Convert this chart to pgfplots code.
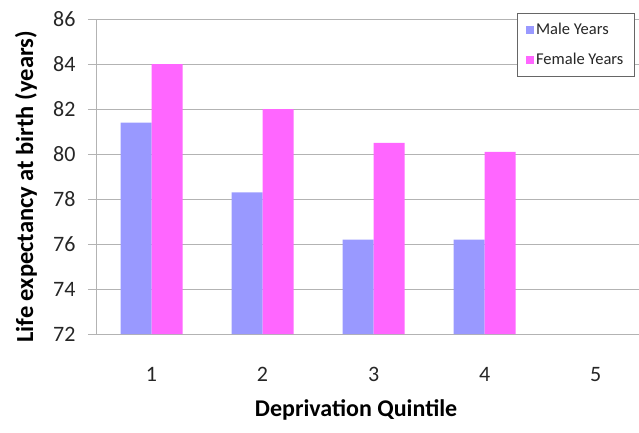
\documentclass[border=0pt]{standalone}
\usepackage{pgfplots}
\pgfplotsset{compat=1.18}
\usepackage{fontspec}
\setmainfont{Carlito}
\usetikzlibrary{calc}
\definecolor{maleblue}{HTML}{9999FF}
\definecolor{femalepink}{HTML}{FF66FF}
\definecolor{gridgray}{HTML}{B3B3B3}
\begin{document}
\begin{tikzpicture}
\begin{axis}[
  name=ax,
  scale only axis,
  width=543pt, height=315pt,
  xmin=0.5, xmax=5.39,
  ymin=72, ymax=86,
  ytick={72,74,...,86},
  xtick=\empty,
  minor xtick={0.5,1.5,2.5,3.5,4.5},
  extra x ticks={1,2,3,4,5},
  extra x tick labels={1,2,3,4,5},
  extra x tick style={tick style={draw=none}},
  axis x line*=bottom, axis y line*=left,
  axis line style={gridgray, line width=0.8pt, -},
  ymajorgrids, grid style={gridgray, line width=0.8pt},
  tick align=outside,
  major tick length=8pt, minor tick length=11pt,
  tick style={gridgray, line width=0.8pt},
  /pgf/number format/assume math mode=true,
  ticklabel style={font=\fontsize{22}{26}\selectfont, text=black!85},
  xticklabel style={yshift=-22pt},
  yticklabel style={xshift=-9pt},
  ybar=0pt, bar width=31pt,
  xlabel={\textbf{Deprivation Quintile}},
  ylabel={\textbf{Life expectancy at birth (years)}},
  xlabel style={font=\fontsize{24}{28}\selectfont, at={(axis description cs:0.479,-0.241)}, anchor=center},
  ylabel style={font=\fontsize{24.5}{28}\selectfont, at={(axis description cs:-0.129,0.467)}, anchor=center},
  legend style={at={(axis description cs:0.775,1.019)}, anchor=north west,
    draw=gray!80!black, line width=0.6pt, font=\fontsize{16.5}{19}\selectfont,
    row sep=13pt, inner xsep=9pt, inner ysep=8pt, text=black!85},
  legend image code/.code={\fill[#1] (0pt,-4pt) rectangle (8pt,4pt);},
  legend cell align=left,
]
\addplot[fill=maleblue, draw=none] coordinates {(1,81.4) (2,78.3) (3,76.2) (4,76.2)};
\addplot[fill=femalepink, draw=none] coordinates {(1,84) (2,82) (3,80.5) (4,80.1)};
\legend{Male Years, Female Years}
\end{axis}
\pgfresetboundingbox
\path[use as bounding box] ($(ax.south west)+(-96pt,-98pt)$) rectangle ($(ax.north east)+(0pt,19pt)$);
\end{tikzpicture}
\end{document}
